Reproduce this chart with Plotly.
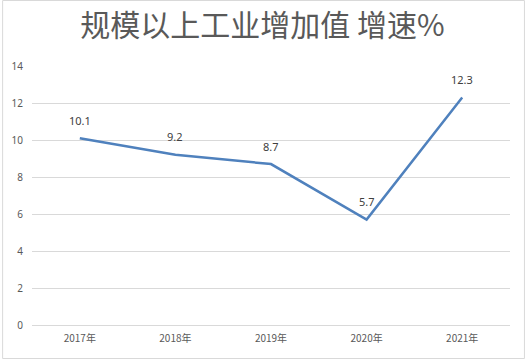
import plotly.graph_objects as go

years = ["2017年", "2018年", "2019年", "2020年", "2021年"]
growth = [10.1, 9.2, 8.7, 5.7, 12.3]
labels = ["10.1", "9.2", "8.7", "5.7", "12.3"]
title = "规模以上工业增加值 增速%"

W, H = 525, 359
L, R, T, B = 30, 15, 66, 34
pw, ph = W - L - R, H - T - B

fig = go.Figure()
fig.add_trace(go.Scatter(
    x=years, y=growth, mode="lines",
    line=dict(color="#4F81BD", width=2.5),
    hoverinfo="skip",
))

annotations = [
    dict(x=xv, y=yv, text=t, xref="x", yref="y", showarrow=False, yshift=18,
         font=dict(family="Noto Sans, DejaVu Sans, sans-serif", size=11, color="#404040"))
    for xv, yv, t in zip(years, growth, labels)
]

fig.update_layout(
    width=W, height=H,
    margin=dict(l=L, r=R, t=T, b=B),
    paper_bgcolor="white", plot_bgcolor="white",
    showlegend=False,
    annotations=annotations,
    title=dict(text=title, x=0.5, xanchor="center", y=1 - 25 / H, yanchor="middle",
               font=dict(family="Noto Sans CJK SC, sans-serif", size=30, color="#595959")),
    xaxis=dict(type="category", range=[-0.5, 4.5], showgrid=False, zeroline=False,
               showline=False, ticks="", ticklabelstandoff=6,
               tickfont=dict(family="Noto Sans CJK SC, sans-serif", size=10, color="#595959")),
    yaxis=dict(range=[0, 14], dtick=2, showgrid=True, gridcolor="#d9d9d9", gridwidth=1,
               zeroline=True, zerolinecolor="#d9d9d9", zerolinewidth=1, showline=False,
               ticks="", ticklabelstandoff=8,
               tickfont=dict(family="Noto Sans, DejaVu Sans, sans-serif", size=10, color="#595959")),
    shapes=[dict(type="rect", xref="paper", yref="paper",
                 x0=(0.5 - L) / pw, x1=(W - 0.5 - L) / pw,
                 y0=-(B - 0.5) / ph, y1=(ph + T - 0.5) / ph,
                 line=dict(color="#d9d9d9", width=1), layer="below")],
)

fig.write_html("out.html", config={"displayModeBar": False},
               post_script="document.body.style.margin='0';")
